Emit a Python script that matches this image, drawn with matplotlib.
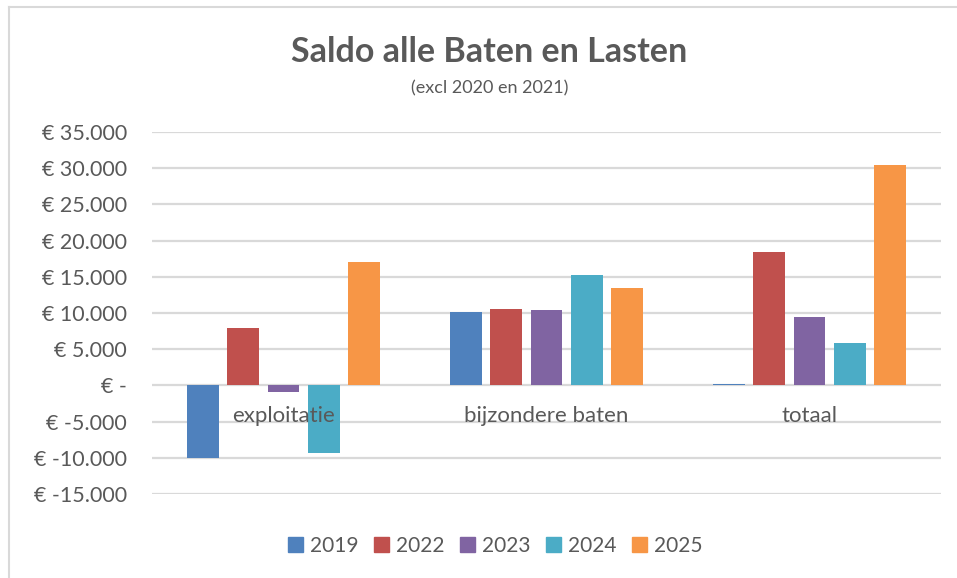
import matplotlib.pyplot as plt
import matplotlib.patches as mpatches
import numpy as np
from matplotlib.ticker import FuncFormatter

# ── Data ────────────────────────────────────────────
categories = ["exploitatie", "bijzondere baten", "totaal"]
years = ["2019", "2022", "2023", "2024", "2025"]
saldo_2019 = [-10000, 10200, 250]
saldo_2022 = [7900, 10500, 18400]
saldo_2023 = [-900, 10400, 9500]
saldo_2024 = [-9300, 15200, 5900]
saldo_2025 = [17000, 13400, 30400]
series = [saldo_2019, saldo_2022, saldo_2023, saldo_2024, saldo_2025]
colors = ["#4F81BD", "#C0504D", "#8064A2", "#4BACC6", "#F79646"]

TEXT = "#595959"
GRID = "#D9D9D9"
plt.rcParams["font.family"] = ["Lato", "DejaVu Sans"]

fig = plt.figure(figsize=(9.57, 5.78), dpi=100)
ax = fig.add_axes([152 / 957, 1 - 494 / 578, (941 - 152) / 957, (494 - 132) / 578])

x = np.arange(len(categories))
step = 0.1537
width = 0.121
for k, (vals, col, yr) in enumerate(zip(series, colors, years)):
    ax.bar(x + (k - 2) * step, vals, width, color=col, edgecolor="none",
           label=yr, zorder=3)

ax.set_xlim(-0.5, 2.5)
ax.set_ylim(-15000, 35000)
ax.set_yticks(np.arange(-15000, 35001, 5000))


def euro(v, pos):
    if v == 0:
        return "€ -"
    s = f"{int(abs(v)):,}".replace(",", ".")
    return f"€ -{s}" if v < 0 else f"€ {s}"


ax.yaxis.set_major_formatter(FuncFormatter(euro))
ax.grid(axis="y", color=GRID, linewidth=1.6, zorder=0)
ax.tick_params(axis="y", length=0, pad=18, labelsize=15.5, labelcolor=TEXT)
ax.set_xticks([])
for sp in ax.spines.values():
    sp.set_visible(False)

# category labels sit just under the zero line, on top of the bars
for xi, cat in zip(x, categories):
    ax.annotate(cat, (xi, 0), xytext=(0, -31), textcoords="offset pixels",
                ha="center", va="center", fontsize=16, color=TEXT, zorder=6)

# ── Titles ────────────────────────────────────────────
fig.text(489 / 957, 1 - 52 / 578, "Saldo alle Baten en Lasten", ha="center",
         va="center", fontsize=24.5, fontweight="bold", color=TEXT)
fig.text(490 / 957, 1 - 88 / 578, "(excl 2020 en 2021)", ha="center",
         va="center", fontsize=13, color=TEXT)

# ── Legend ────────────────────────────────────────────
handles = [mpatches.Patch(color=c, label=y) for c, y in zip(colors, years)]
fig.legend(handles=handles, loc="center", bbox_to_anchor=(495 / 957, 1 - 546 / 578),
           ncol=5, frameon=False, fontsize=15, labelcolor=TEXT,
           handlelength=0.75, handleheight=0.75, handletextpad=0.3, columnspacing=0.75)

# ── Chart border ─────────────────────────────────────
fig.add_artist(plt.Line2D([9 / 957, 9 / 957], [0, 1 - 7 / 578],
                          transform=fig.transFigure, color=GRID, linewidth=1.5))
fig.add_artist(plt.Line2D([9 / 957, 1], [1 - 7 / 578, 1 - 7 / 578],
                          transform=fig.transFigure, color=GRID, linewidth=1.5))

fig.savefig("out.png", dpi=100)
